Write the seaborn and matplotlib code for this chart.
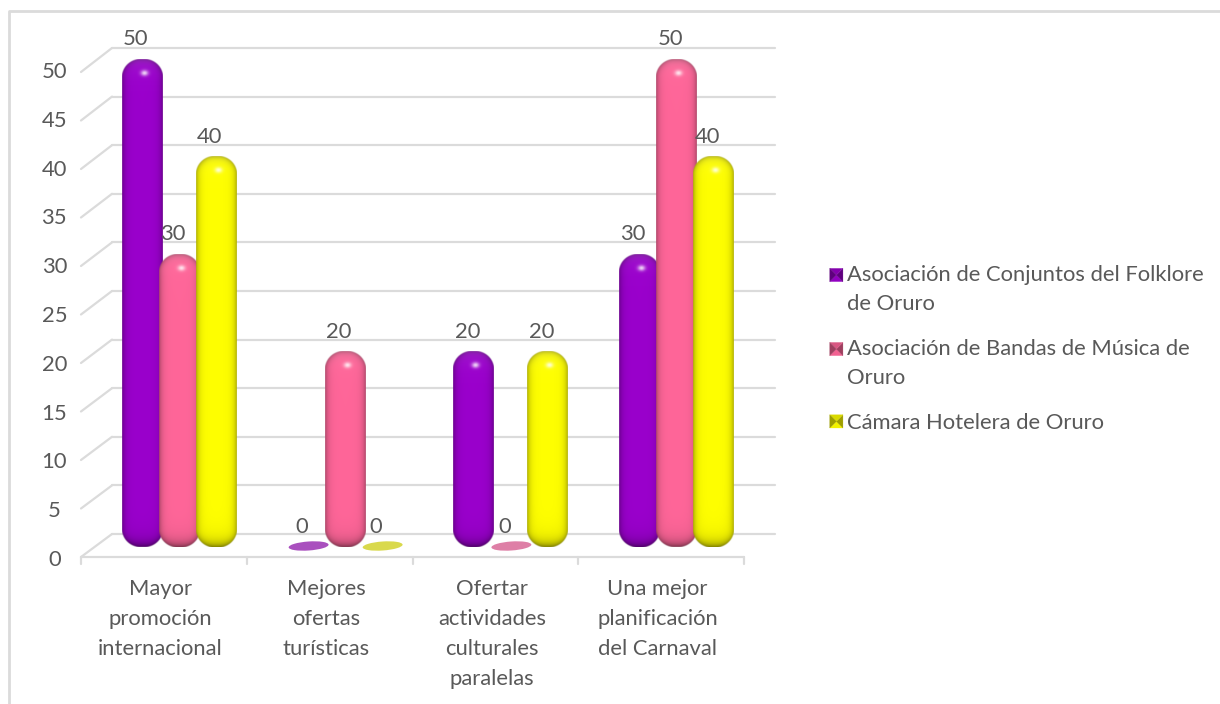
import numpy as np
import pandas as pd
import seaborn as sns
import matplotlib.pyplot as plt
from matplotlib.colors import to_rgb
from matplotlib.legend_handler import HandlerBase
from matplotlib.patches import Ellipse, Patch, Polygon
from matplotlib.transforms import Affine2D, ScaledTranslation

categories = ['Mayor\npromoción\ninternacional', 'Mejores\nofertas\nturísticas',
              'Ofertar\nactividades\nculturales\nparalelas', 'Una mejor\nplanificación\ndel Carnaval']
series_names = ['Asociación de Conjuntos del Folklore\nde Oruro',
                'Asociación de Bandas de Música de\nOruro',
                'Cámara Hotelera de Oruro']
conjuntos = [50, 0, 20, 30]
bandas = [30, 20, 0, 50]
camara = [40, 0, 20, 40]
y_ticks = [0, 5, 10, 15, 20, 25, 30, 35, 40, 45, 50]

colors = ['#9A00CC', '#FF6699', '#FFFF00']
flat_colors = ['#A94FBE', '#DE7FA6', '#D9D94C']
text_color = '#595959'
grid_color = '#DBDBDB'

W, H = 1220, 704
FONT = 15.8

sns.set_theme(style='white')
plt.rcParams['font.family'] = ['Lato', 'DejaVu Sans']

df = pd.DataFrame({
    'categoria': categories * 3,
    'serie': sum([[s] * 4 for s in series_names], []),
    'valor': conjuntos + bandas + camara,
})

fig = plt.figure(figsize=(W / 100, H / 100), dpi=100)


def px_axes(x0, x1, y_top, y_bottom):
    return [x0 / W, 1 - y_bottom / H, (x1 - x0) / W, (y_bottom - y_top) / H]


# wall, floor and chart border, in pixels
frame = fig.add_axes([0, 0, 1, 1], zorder=0)
frame.set_xlim(0, W)
frame.set_ylim(H, 0)
frame.axis('off')
frame.plot([9, 9, W], [H, 11, 11], color=grid_color, lw=2.0)
for v in y_ticks:
    back_y = 534 - v * 9.72
    front_y = 557 - v * 9.7
    frame.plot([112, 775], [back_y, back_y], color=grid_color, lw=1.6)
    frame.plot([81, 112], [front_y, back_y], color=grid_color, lw=1.6)
frame.plot([81, 744], [557, 557], color=grid_color, lw=1.6)
for i in range(len(categories) + 1):
    x = 81 + i * 165.75
    frame.plot([x, x], [557, 564], color=grid_color, lw=1.6)

ax = fig.add_axes(px_axes(96, 759, 59, 547), zorder=1)
ax.patch.set_visible(False)
sns.barplot(data=df, x='categoria', y='valor', hue='serie', hue_order=series_names,
            order=categories, palette=colors, width=0.67, gap=0, legend=False, ax=ax)
ax.set_xlim(-0.5, 3.5)
ax.set_ylim(0, 50)
ax.set_xlabel('')
ax.set_ylabel('')
sns.despine(ax=ax, left=True, bottom=True)
ax.tick_params(length=0)
ax.set_yticks(y_ticks)
ax.set_yticklabels(y_ticks, fontsize=FONT, color=text_color, ha='center')
ax.tick_params(axis='y', pad=30)
ax.tick_params(axis='x', pad=23)
for lab in ax.get_xticklabels():
    lab.set_fontsize(FONT)
    lab.set_color(text_color)
    lab.set_linespacing(1.62)
    lab.set_transform(lab.get_transform() + ScaledTranslation(-18.5 / 100, 0, fig.dpi_scale_trans))
for lab in ax.get_yticklabels():
    lab.set_transform(lab.get_transform() + ScaledTranslation(0, -11 / 100, fig.dpi_scale_trans))


def pill_image(base, w, h, scale=2):
    # shaded capsule with alpha taken from the distance to its outline
    r = 18.0
    xs = (np.arange(int(w * scale)) + 0.5) / scale
    ys = (np.arange(int(h * scale)) + 0.5) / scale
    xx, yy = np.meshgrid(xs, ys)
    qx = np.abs(xx - w / 2) - (w / 2 - r)
    qy = np.abs(yy - h / 2) - (h / 2 - r)
    d = np.hypot(np.maximum(qx, 0), np.maximum(qy, 0)) + np.minimum(np.maximum(qx, qy), 0) - r
    depth = np.maximum(-d, 0)
    shade = 1 - 0.34 * np.exp(-depth / 3.0)
    shade *= 1 - 0.30 * np.exp(-(h - yy) / 8.0)
    rgb = np.array(to_rgb(base))[None, None, :] * shade[..., None]
    top_glow = 0.14 * np.exp(-yy / 9.0)[..., None]
    spot = 0.8 * np.exp(-(((xx - w / 2 - 2) / 3.6) ** 2 + ((yy - 14) / 2.8) ** 2))[..., None]
    rgb = rgb + (1 - rgb) * np.minimum(top_glow + spot, 1)
    alpha = np.clip(0.5 - d, 0, 1)[..., None]
    return np.clip(np.concatenate([rgb, alpha], axis=2), 0, 1)


fig.canvas.draw()
px_per_x = 663 / 4
px_per_y = 488 / 50
pad = 1.5 / px_per_x
for s, (container, base, flat) in enumerate(zip(ax.containers, colors, flat_colors)):
    for bar in container:
        bar.set_alpha(0)
        x0, val, bw = bar.get_x(), bar.get_height(), bar.get_width()
        cx = x0 + bw / 2
        ax.annotate(f'{val:.0f}', (cx, val), xytext=(-6, 20), textcoords='offset pixels',
                    ha='center', va='center', fontsize=FONT, color=text_color, zorder=6,
                    annotation_clip=False)
        px, py = ax.transData.transform((cx, 0))
        if val == 0:
            tr = Affine2D().rotate_deg(4).translate(px + 1, py + 1)
            ax.add_patch(Ellipse((0, 0), 40, 9, facecolor=flat, edgecolor='none',
                                 transform=tr, clip_on=False, zorder=3))
            continue
        w_px = (bw + 2 * pad) * px_per_x
        h_px = val * px_per_y
        ax.imshow(pill_image(base, w_px, h_px), extent=(x0 - pad, x0 + bw + pad, 0, val),
                  aspect='auto', interpolation='bilinear', zorder=3 + s * 0.1, clip_on=False)
ax.set_xlim(-0.5, 3.5)
ax.set_ylim(0, 50)


class BevelHandler(HandlerBase):
    def create_artists(self, legend, orig_handle, xdescent, ydescent, width, height, fontsize, trans):
        base = np.array(orig_handle.get_facecolor()[:3])
        lines = orig_handle.get_label().count('\n')
        size = 9.5
        x0 = width - size
        y0 = (height - size) / 2 + lines * 10.6
        c = (x0 + size / 2, y0 + size / 2)
        corners = [(x0, y0), (x0 + size, y0), (x0 + size, y0 + size), (x0, y0 + size)]
        shades = [0.95, 0.62, 0.85, 0.62]
        artists = []
        for i, sh in enumerate(shades):
            tri = Polygon([corners[i], corners[(i + 1) % 4], c], closed=True,
                          facecolor=base * sh, edgecolor=base * sh, lw=0.2, transform=trans)
            artists.append(tri)
        return artists


handles = [Patch(facecolor=c, label=n) for c, n in zip(colors, series_names)]
ax.legend(handles=handles, labels=series_names, handler_map={Patch: BevelHandler()},
          loc='upper left', bbox_to_anchor=(821 / W, 1 - 265 / H), bbox_transform=fig.transFigure,
          frameon=False, fontsize=FONT, labelcolor=text_color, handlelength=1.0,
          handletextpad=0.2, labelspacing=1.15, borderpad=0, borderaxespad=0)
for t in ax.get_legend().get_texts():
    t.set_linespacing(1.55)

fig.savefig('out.png', dpi=100)
